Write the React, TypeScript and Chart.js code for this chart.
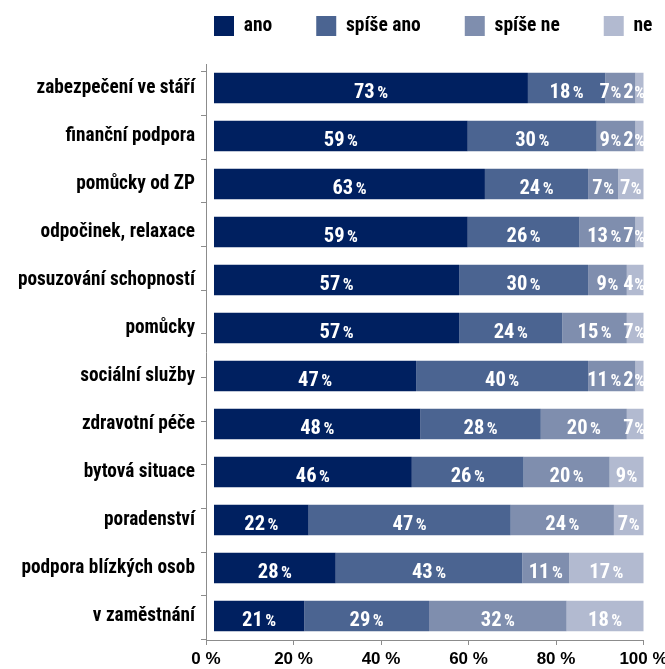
import React, { useEffect, useRef } from 'react';
import { Chart, registerables } from 'chart.js';

Chart.register(...registerables);

const categories = [
  'zabezpečení ve stáří',
  'finanční podpora',
  'pomůcky od ZP',
  'odpočinek, relaxace',
  'posuzování schopností',
  'pomůcky',
  'sociální služby',
  'zdravotní péče',
  'bytová situace',
  'poradenství',
  'podpora blízkých osob',
  'v zaměstnání',
];

const seriesNames = ['ano', 'spíše ano', 'spíše ne', 'ne'];

const ano = [73, 59, 63, 59, 57, 57, 47, 48, 46, 22, 28.3, 21];
const spiseAno = [18, 30, 24, 26, 30, 24, 40, 28, 26, 47, 43.4, 29];
const spiseNe = [7, 9, 7, 13, 9, 15, 11, 20, 20, 24, 10.9, 32];
const ne = [2, 2, 7, 7, 4, 7, 2, 7, 9, 7, 17.4, 18];

const xTickValues = [0, 20, 40, 60, 80, 100];

const seriesColors = ['#002060', '#4B6491', '#7F8EAE', '#B2BAD0'];

const COND = '"Roboto Condensed", "DejaVu Sans Condensed", sans-serif';
const WIDE = '"Liberation Sans", Arial, sans-serif';
const AXIS_GRAY = '#8C8C8C';

const legendPlace = {
  id: 'legendPlace',
  beforeDraw(chart: any) {
    const lg = chart.legend;
    if (!lg) return;
    const pad = lg.options.labels.padding;
    lg.left = chart.chartArea.left + 8 - pad;
    lg.right = chart.width + 300;
  },
};

const barLabels = {
  id: 'barLabels',
  afterDatasetsDraw(chart: any) {
    const { ctx, chartArea } = chart;
    const limit = chartArea.right + 1.5;
    const numFont = `bold 20.5px ${COND}`;
    const pctFont = `bold 17px ${COND}`;
    ctx.save();
    const n = chart.data.labels.length;
    for (let i = 0; i < n; i++) {
      const items: any[] = [];
      chart.data.datasets.forEach((ds: any, d: number) => {
        const meta = chart.getDatasetMeta(d);
        const el = meta.data[i];
        if (!el) return;
        const { x, base, y } = el.getProps(['x', 'base', 'y'], true);
        const l = Math.max(Math.min(x, base), chartArea.left);
        const r = Math.min(Math.max(x, base), chartArea.right);
        if (r <= l) return;
        const num = String(Math.round(ds.data[i]));
        ctx.font = numFont;
        const nw = ctx.measureText(num).width;
        ctx.font = pctFont;
        const pw = ctx.measureText('%').width;
        let gap = num.length === 1 ? 0.5 : 2.5;
        if (nw + gap + pw > r - l - 4) gap = Math.min(gap, 1);
        const w = nw + gap + pw;
        let lx = (l + r) / 2 - w / 2;
        if (lx + w > limit) lx = limit - w;
        items.push({ num, nw, pw, gap, w, lx, y });
      });
      for (let k = items.length - 2; k >= 0; k--) {
        const nx = items[k + 1].lx - 2;
        if (items[k].lx + items[k].w > nx) items[k].lx = nx - items[k].w;
      }
      ctx.fillStyle = '#ffffff';
      ctx.textAlign = 'left';
      ctx.textBaseline = 'alphabetic';
      items.forEach((it) => {
        ctx.font = numFont;
        ctx.fillText(it.num, it.lx, it.y + 9.5);
        ctx.font = pctFont;
        ctx.fillText('%', it.lx + it.nw + it.gap, it.y + 9.5);
      });
    }
    ctx.restore();
  },
};

export default function App() {
  const canvasRef = useRef<HTMLCanvasElement | null>(null);

  useEffect(() => {
    if (!canvasRef.current) return;
    const series = [ano, spiseAno, spiseNe, ne];
    const chart = new Chart(canvasRef.current, {
      type: 'bar',
      data: {
        labels: categories,
        datasets: series.map((vals, i) => ({
          label: seriesNames[i],
          data: vals,
          backgroundColor: seriesColors[i],
          borderWidth: 0,
          xAxisID: 'xb',
          yAxisID: 'y',
          barPercentage: 0.64,
          categoryPercentage: 1,
        })),
      },
      options: {
        indexAxis: 'y',
        responsive: false,
        animation: false,
        layout: { padding: { left: 6, right: 21.5, top: -28, bottom: 0 } },
        plugins: {
          tooltip: { enabled: false },
          title: { display: false },
          legend: {
            display: true,
            position: 'top',
            align: 'start',
            labels: {
              boxWidth: 20,
              boxHeight: 20,
              padding: 44,
              color: '#000000',
              font: { family: COND, size: 19.5, weight: 'bold' },
            },
          },
        },
        scales: {
          xb: {
            type: 'linear',
            position: 'top',
            stacked: true,
            min: -1.86,
            max: 99.88,
            display: true,
            ticks: { display: false },
            grid: { display: false, drawTicks: false },
            border: { display: false },
            afterFit: (scale: any) => {
              scale.height = 18;
            },
          },
          x: {
            type: 'linear',
            position: 'bottom',
            min: 0,
            max: 100,
            afterBuildTicks: (scale: any) => {
              scale.ticks = xTickValues.map((v) => ({ value: v }));
            },
            ticks: {
              color: '#000000',
              padding: 4,
              maxRotation: 0,
              autoSkip: false,
              font: { family: WIDE, size: 17, weight: 'bold' },
              callback: (v: any) => `${v} %`,
            },
            grid: {
              drawOnChartArea: false,
              drawTicks: true,
              tickLength: 5,
              color: AXIS_GRAY,
            },
            border: { display: true, color: AXIS_GRAY, width: 1 },
            afterFit: (scale: any) => {
              scale.height = 29;
              scale.paddingLeft = 0;
              scale.paddingRight = 0;
            },
          },
          y: {
            type: 'category',
            position: 'left',
            stacked: true,
            weight: 1,
            ticks: {
              color: '#000000',
              padding: 6,
              autoSkip: false,
              font: { family: COND, size: 19.3, weight: 'bold' },
            },
            grid: { display: false, drawTicks: false },
            border: { display: false },
            afterFit: (scale: any) => {
              scale.width = 195;
            },
          },
          y2: {
            type: 'linear',
            position: 'left',
            reverse: true,
            weight: 0,
            min: -0.169,
            max: categories.length,
            afterBuildTicks: (scale: any) => {
              scale.ticks = Array.from({ length: categories.length + 1 }, (_, k) => ({ value: k }));
            },
            ticks: { display: false },
            grid: {
              drawOnChartArea: false,
              drawTicks: true,
              tickLength: 5,
              color: AXIS_GRAY,
            },
            border: { display: true, color: AXIS_GRAY, width: 1 },
          },
        },
      } as any,
      plugins: [legendPlace, barLabels],
    });
    return () => chart.destroy();
  }, []);

  return (
    <div style={{ position: 'absolute', left: 0, top: 0, width: 665, height: 669, background: '#fff' }}>
      <canvas ref={canvasRef} width={665} height={669} style={{ display: 'block' }} />
    </div>
  );
}
